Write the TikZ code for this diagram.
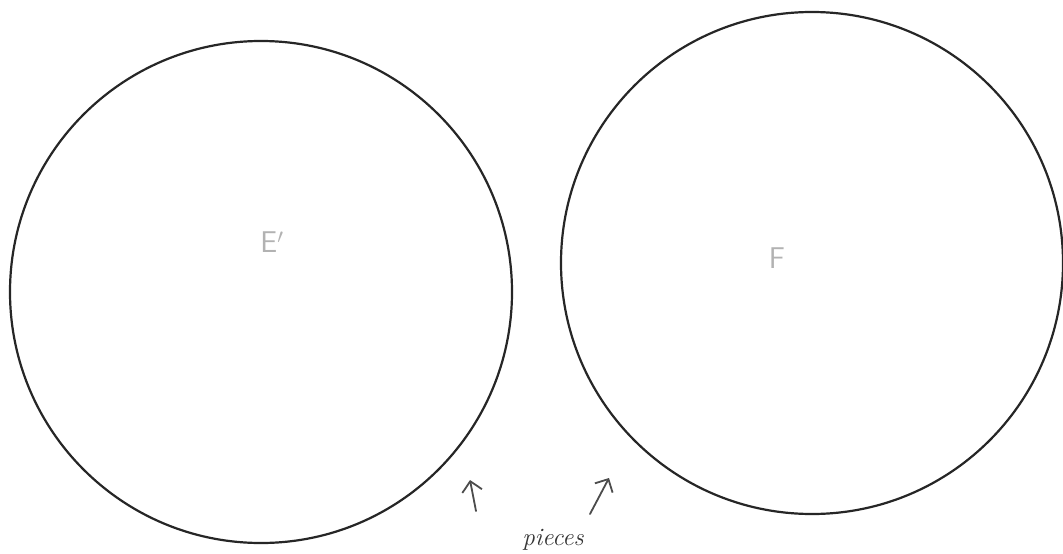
\documentclass[tikz,border=0pt]{standalone}
\usetikzlibrary{arrows.meta}
\begin{document}
\begin{tikzpicture}[x=1pt,y=-1pt,
  disc/.style={circle,draw=black!85,line width=2.2pt,minimum size=502pt,inner sep=0pt},
  pencil/.style={text=black!30,font=\fontsize{30}{30}\selectfont\sffamily},
  hand/.style={draw=black!70,line width=1.8pt,line cap=round,-{Straight Barb[length=10pt,width=20pt,line width=1.8pt]}},
  note/.style={text=black!80,font=\fontsize{25}{25}\selectfont\itshape}]
\useasboundingbox (0,0) rectangle (1063,554);
\fill[white] (0,0) rectangle (1063,554);
\node[disc] (e) at (261,292) {};
\node[disc] (f) at (812,263) {};
\node[pencil] (el) at (272,242) {E$'$};
\node[pencil] (fl) at (777,258) {F};
\coordinate (a1s) at (476,511);
\coordinate (a1e) at (470,480);
\coordinate (a2s) at (590,514);
\coordinate (a2e) at (609,478);
\draw[hand] (a1s) -- (a1e);
\draw[hand] (a2s) -- (a2e);
\node[note,anchor=base] (pc) at (553,545) {pieces};
\end{tikzpicture}
\end{document}
